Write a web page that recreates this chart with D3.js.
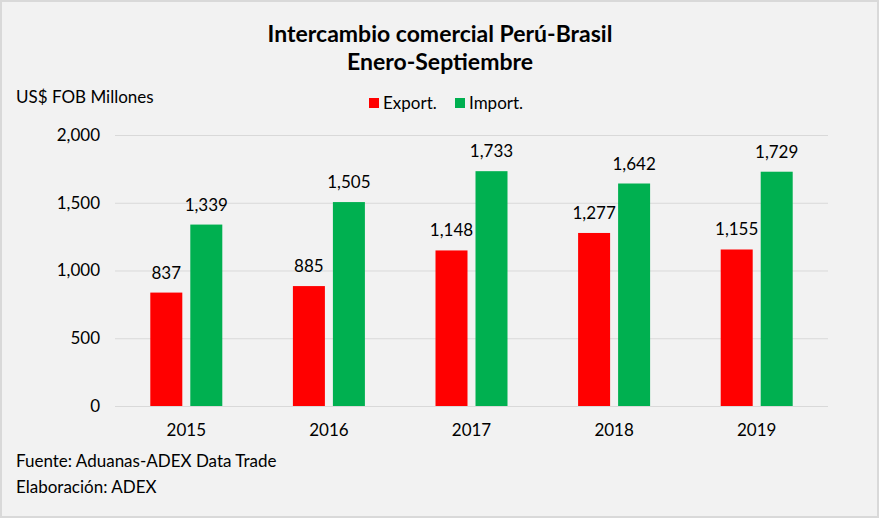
<!DOCTYPE html>
<html>
<head>
<meta charset="utf-8">
<script src="https://cdn.jsdelivr.net/npm/d3@7"></script>
<style>
  body { margin: 0; background: #fff; }
  text { font-family: Lato, "Open Sans", sans-serif; fill: #000; }
  .title { font-size: 23px; font-weight: bold; }
  .tick text { font-size: 17px; }
  .label { font-size: 17px; }
</style>
</head>
<body>
<div id="wrapper"></div>
<script>
const years = ["2015", "2016", "2017", "2018", "2019"];
const exportValues = [837, 885, 1148, 1277, 1155];
const importValues = [1339, 1505, 1733, 1642, 1729];
const yTicks = [0, 500, 1000, 1500, 2000];
const seriesNames = ["Export.", "Import."];
const seriesColors = ["#ff0000", "#00b050"];

const width = 879;
const height = 518;
const margin = { top: 135, right: 51, bottom: 112, left: 115 };
const plotWidth = width - margin.left - margin.right;
const plotHeight = height - margin.top - margin.bottom;

const svg = d3.select("#wrapper").append("svg")
  .attr("width", width)
  .attr("height", height);

svg.append("rect")
  .attr("x", 1).attr("y", 1)
  .attr("width", width - 2).attr("height", height - 2)
  .attr("fill", "#f2f2f2")
  .attr("stroke", "#d9d9d9")
  .attr("stroke-width", 2);

const plot = svg.append("g")
  .attr("transform", `translate(${margin.left},${margin.top})`);

const x = d3.scaleBand().domain(years).range([0, plotWidth]);
const y = d3.scaleLinear().domain([0, 2000]).range([plotHeight, 0]);
const barWidth = 32;
const barGap = 8;

// gridlines + y labels
const yAxis = plot.append("g")
  .call(d3.axisLeft(y).tickValues(yTicks).tickSize(-plotWidth).tickPadding(15)
    .tickFormat(d3.format(",")));
yAxis.select(".domain").remove();
yAxis.selectAll(".tick line").attr("stroke", "#d9d9d9");

const xAxis = plot.append("g")
  .attr("transform", `translate(0,${plotHeight})`)
  .call(d3.axisBottom(x).tickSize(0).tickPadding(18));
xAxis.select(".domain").remove();

const series = [exportValues, importValues];
series.forEach((values, s) => {
  const offset = s === 0 ? -barGap / 2 - barWidth : barGap / 2;
  const g = plot.append("g");
  g.selectAll("rect")
    .data(years)
    .join("rect")
    .attr("x", (d) => x(d) + x.bandwidth() / 2 + offset)
    .attr("y", (d, i) => y(values[i]))
    .attr("width", barWidth)
    .attr("height", (d, i) => plotHeight - y(values[i]))
    .attr("fill", seriesColors[s]);
  g.selectAll("text")
    .data(years)
    .join("text")
    .attr("class", "label")
    .attr("text-anchor", "middle")
    .attr("x", (d) => x(d) + x.bandwidth() / 2 + offset + barWidth / 2)
    .attr("y", (d, i) => y(values[i]) - 14)
    .text((d, i) => d3.format(",")(values[i]));
});

// titles
svg.append("text").attr("class", "title")
  .attr("x", 440).attr("y", 42).attr("text-anchor", "middle")
  .text("Intercambio comercial Perú-Brasil");
svg.append("text").attr("class", "title")
  .attr("x", 440).attr("y", 70).attr("text-anchor", "middle")
  .text("Enero-Septiembre");

svg.append("text").attr("class", "label")
  .attr("x", 16).attr("y", 103)
  .text("US$ FOB Millones");

// legend
const legendX = [369, 455];
seriesNames.forEach((name, i) => {
  svg.append("rect")
    .attr("x", legendX[i]).attr("y", 98)
    .attr("width", 10).attr("height", 10)
    .attr("fill", seriesColors[i]);
  svg.append("text").attr("class", "label")
    .attr("x", legendX[i] + 14).attr("y", 109)
    .text(name);
});

svg.append("text").attr("class", "label")
  .attr("x", 16).attr("y", 467)
  .text("Fuente: Aduanas-ADEX Data Trade");
svg.append("text").attr("class", "label")
  .attr("x", 16).attr("y", 493)
  .text("Elaboración: ADEX");
</script>
</body>
</html>
